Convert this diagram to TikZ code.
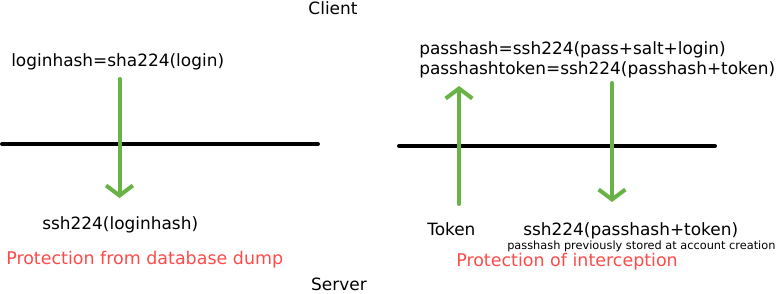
\documentclass[tikz,border=0pt]{standalone}
\usepackage{fontspec}
\setmainfont{DejaVu Sans}
\usetikzlibrary{arrows.meta,positioning}
\definecolor{flowgreen}{RGB}{104,178,70}
\definecolor{notered}{RGB}{255,74,74}

\begin{document}
\begin{tikzpicture}[x=0.75pt, y=-0.75pt,
    txt/.style={font=\fontsize{12.7}{15}\selectfont, inner sep=0pt, anchor=base west},
    small/.style={font=\fontsize{8.5}{10}\selectfont, inner sep=0pt, anchor=base west},
    warn/.style={txt, font=\fontsize{13.1}{15}\selectfont, text=notered},
    wire/.style={line width=3pt, line cap=round},
    flow/.style={flowgreen, line width=3pt, line cap=round,
                 -{Straight Barb[length=7.5pt, width=20pt]}}]

        \useasboundingbox (0,0) rectangle (778,293);

        % Client / Server
        \node[txt, anchor=base] (client) at (333,14.5) {Client};
        \node[txt, anchor=base] (server) at (339,290) {Server};

        % Login (left)
        \node[txt] (loginhash) at (11,66.5) {loginhash=sha224(login)};
        \node[txt] (logindb) at (42,229) {ssh224(loginhash)};
        \node[warn] (dumpnote) at (6,264) {Protection from database dump};

        \coordinate (wireLa) at (2,144);
        \coordinate (wireLb) at (318,144);
        \coordinate (loginout) at (119.5,79);
        \coordinate (loginin) at (119.5,198);

        \draw[wire] (wireLa) -- (wireLb);
        \draw[flow] (loginout) -- (loginin);

        % Password (right)
        \node[txt] (passhash) at (419,54.5) {passhash=ssh224(pass+salt+login)};
        \node[txt] (passtoken) at (419,74.5) {passhashtoken=ssh224(passhash+token)};
        \node[txt] (token) at (427,235) {Token};
        \node[txt] (passdb) at (523,235) {ssh224(passhash+token)};
        \node[small] (passnote) at (507,249) {passhash previously stored at account creation};
        \node[warn] (interceptnote) at (456,266) {Protection of interception};

        \coordinate (wireRa) at (399,146);
        \coordinate (wireRb) at (715,146);
        \coordinate (tokenout) at (459,204);
        \coordinate (tokenin) at (459,86);
        \coordinate (passout) at (612,83);
        \coordinate (passin) at (612,202);

        \draw[wire] (wireRa) -- (wireRb);
        \draw[flow] (tokenout) -- (tokenin);
        \draw[flow] (passout) -- (passin);

    \end{tikzpicture}
\end{document}
